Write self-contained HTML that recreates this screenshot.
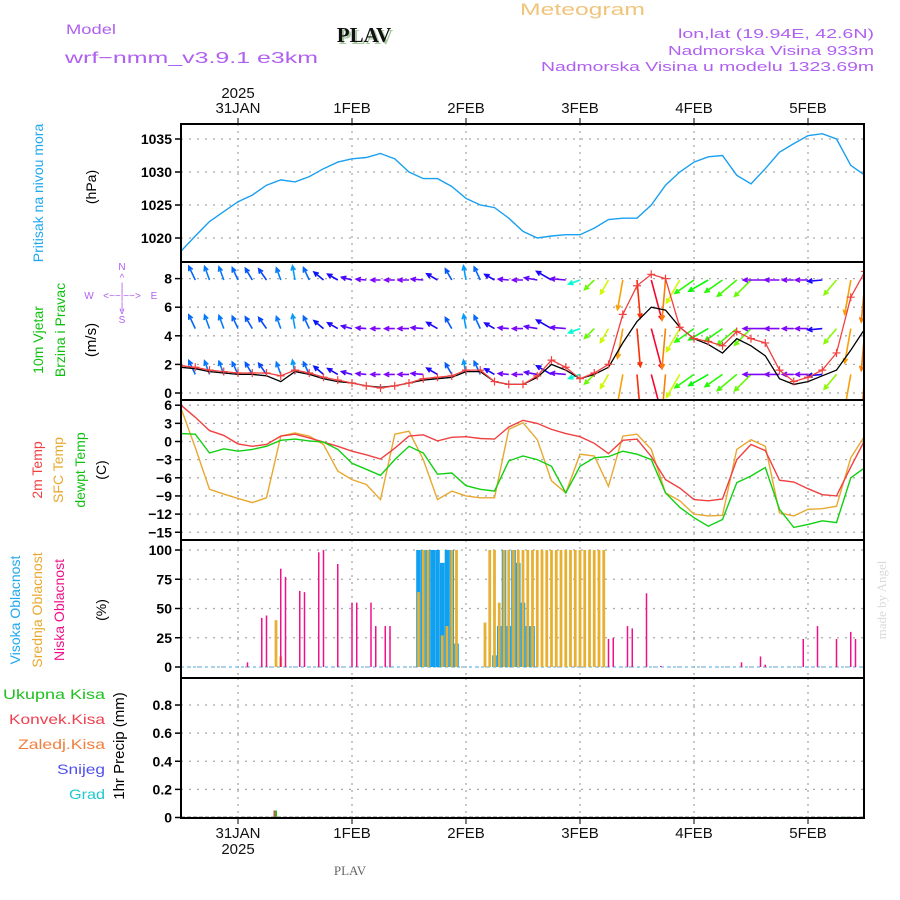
<!DOCTYPE html>
<html><head><meta charset="utf-8"><style>
html,body{margin:0;padding:0;background:#fff;}
svg{display:block;font-family:"Liberation Sans",sans-serif;}
</style></head><body>
<svg id="chart" width="900" height="900" viewBox="0 0 900 900" xmlns="http://www.w3.org/2000/svg">
<defs>
<clipPath id="cp1"><rect x="181" y="124" width="683" height="138"/></clipPath>
<clipPath id="cp2"><rect x="181" y="262" width="683" height="138"/></clipPath>
<clipPath id="cp3"><rect x="181" y="400" width="683" height="140"/></clipPath>
<clipPath id="cp4"><rect x="181" y="540" width="683" height="138"/></clipPath>
<clipPath id="cp5"><rect x="181" y="678" width="683" height="140"/></clipPath>
</defs>
<g>
<text x="520" y="15" font-size="17" fill="#f0c47a" textLength="125" lengthAdjust="spacingAndGlyphs">Meteogram</text>
<text x="66" y="34" font-size="14" fill="#b060f0" textLength="50" lengthAdjust="spacingAndGlyphs">Model</text>
<text x="65" y="63" font-size="16" fill="#b060f0" textLength="253" lengthAdjust="spacingAndGlyphs">wrf−nmm_v3.9.1 e3km</text>
<text x="366" y="44" text-anchor="middle" font-size="21" font-weight="bold" font-family="Liberation Serif,serif" fill="#a8c8a0">PLAV</text>
<text x="364" y="42" text-anchor="middle" font-size="21" font-weight="bold" font-family="Liberation Serif,serif" fill="#111">PLAV</text>
<text x="678" y="38" font-size="13" fill="#b060f0" textLength="196" lengthAdjust="spacingAndGlyphs">lon,lat (19.94E, 42.6N)</text>
<text x="668" y="55" font-size="13" fill="#b060f0" textLength="206" lengthAdjust="spacingAndGlyphs">Nadmorska Visina 933m</text>
<text x="541" y="71" font-size="13" fill="#b060f0" textLength="333" lengthAdjust="spacingAndGlyphs">Nadmorska Visina u modelu 1323.69m</text>
</g>
<g id="grid"></g>
<g id="series"></g>
<g id="axes"></g>
<g font-size="14">
<text transform="translate(43,193) rotate(-90)" text-anchor="middle" fill="#20a8f0">Pritisak na nivou mora</text>
<text transform="translate(96,187) rotate(-90)" text-anchor="middle" fill="#000">(hPa)</text>
<text transform="translate(43,340) rotate(-90)" text-anchor="middle" fill="#10c010">10m Vjetar</text>
<text transform="translate(65,330) rotate(-90)" text-anchor="middle" fill="#10c010">Brzina i Pravac</text>
<text transform="translate(96,340) rotate(-90)" text-anchor="middle" fill="#000" font-size="15">(m/s)</text>
<g fill="#b060f0" font-size="10" text-anchor="middle">
<text x="122" y="270">N</text><text x="122" y="281">^</text><text x="122" y="290">|</text>
<text x="89" y="299">W</text><text x="122" y="299">&lt;−−|−−&gt;</text><text x="154" y="299">E</text>
<text x="122" y="309">|</text><text x="122" y="314">v</text><text x="122" y="323">S</text>
</g>
<text transform="translate(42,470) rotate(-90)" text-anchor="middle" fill="#f04040">2m Temp</text>
<text transform="translate(63,470) rotate(-90)" text-anchor="middle" fill="#e8a830">SFC Temp</text>
<text transform="translate(85,470) rotate(-90)" text-anchor="middle" fill="#10c010">dewpt Temp</text>
<text transform="translate(106,470) rotate(-90)" text-anchor="middle" fill="#000">(C)</text>
<text transform="translate(20,610) rotate(-90)" text-anchor="middle" fill="#20a8f0">Visoka Oblacnost</text>
<text transform="translate(42,610) rotate(-90)" text-anchor="middle" fill="#e8a830">Srednja Oblacnost</text>
<text transform="translate(64,610) rotate(-90)" text-anchor="middle" fill="#f0108a">Niska Oblacnost</text>
<text transform="translate(106,610) rotate(-90)" text-anchor="middle" fill="#000">(%)</text>
<g font-size="14">
<text x="3" y="699" fill="#20c020" textLength="102" lengthAdjust="spacingAndGlyphs">Ukupna Kisa</text>
<text x="9" y="724" fill="#f04050" textLength="96" lengthAdjust="spacingAndGlyphs">Konvek.Kisa</text>
<text x="18" y="749" fill="#f08040" textLength="87" lengthAdjust="spacingAndGlyphs">Zaledj.Kisa</text>
<text x="57" y="774" fill="#5050f0" textLength="48" lengthAdjust="spacingAndGlyphs">Snijeg</text>
<text x="69" y="799" fill="#20c8d0" textLength="36" lengthAdjust="spacingAndGlyphs">Grad</text>
</g>
<text transform="translate(124,746) rotate(-90)" text-anchor="middle" fill="#000" font-size="15">1hr Precip (mm)</text>
</g>
<text transform="translate(886,600) rotate(-90)" text-anchor="middle" font-size="13" font-family="Liberation Serif,serif" fill="#d8dcd8">made by Angel</text>
<text x="350" y="875" text-anchor="middle" font-size="13" font-family="Liberation Serif,serif" fill="#666">PLAV</text>
</svg>
<script>
// ---- data (3-hourly from 30JAN 12Z, h = 0,3,...,144) ----
const dayLabels = ["31JAN","1FEB","2FEB","3FEB","4FEB","5FEB"];
const dayHours = [12,36,60,84,108,132];
const pressure = [1018.0,1020.3,1022.5,1024,1025.5,1026.5,1028,1028.8,1028.5,1029.3,
 1030.5,1031.5,1032,1032.2,1032.8,1032,1030,1029,1029,1027.8,
 1026,1025,1024.6,1023,1021,1020,1020.3,1020.5,1020.5,1021.5,
 1022.8,1023,1023,1025,1028,1030,1031.5,1032.3,1032.5,1029.5,
 1028.2,1030.5,1033,1034.3,1035.5,1035.8,1035,1031,1029.5];
const windSpeed = [1.9,1.8,1.6,1.5,1.4,1.4,1.4,1.2,1.6,1.4,
 1.1,0.9,0.7,0.5,0.35,0.5,0.7,1.0,1.1,1.2,
 1.6,1.6,0.8,0.6,0.6,1.2,2.3,1.8,1.0,1.4,
 2.0,5.5,7.5,8.3,8.0,4.6,3.8,3.6,3.3,4.3,
 3.8,3.5,1.6,0.8,1.1,1.6,2.8,6.7,8.5];
const windGust = [1.8,1.7,1.5,1.4,1.3,1.3,1.2,0.8,1.5,1.3,
 1.0,0.8,0.7,0.5,0.4,0.5,0.7,0.9,1.0,1.1,
 1.5,1.5,0.8,0.6,0.6,1.1,2.0,1.6,1.0,1.3,
 1.8,3.5,5.0,6.0,5.8,4.6,3.8,3.4,2.8,3.8,
 3.3,2.6,1.0,0.6,0.8,1.2,1.6,3.0,4.5];
const windDir = [120,115,110,110,115,120,125,110,100,115,
 140,150,165,175,180,180,180,175,150,120,
 100,115,150,175,180,170,150,175,200,225,
 240,260,275,285,265,240,215,210,215,220,
 225,180,180,180,180,185,230,260,265];
const windRows = [1.3,4.5,7.9];
const temp2m = [6.0,4.0,1.8,1.0,-0.4,-0.8,-0.5,0.9,1.2,0.6,
 -0.1,-0.8,-1.6,-2.2,-2.9,-1.1,0.9,1.1,0.1,0.7,
 0.8,0.5,0.4,2.4,3.5,3.0,2.0,1.3,0.8,-0.3,
 -2.0,0.2,0.4,-2.5,-6.3,-7.7,-9.6,-9.8,-9.5,-3.0,
 -0.5,-1.5,-6.4,-6.7,-7.8,-8.8,-9.0,-4.2,0.3];
const tempSfc = [5.5,-1,-7.9,-8.7,-9.4,-10.1,-9.3,0.9,1.4,0.9,
 -0.5,-4.9,-6.3,-7.1,-9.6,1.2,1.7,-3,-9.6,-8.2,
 -9,-9.3,-9.3,2.0,3.1,0.3,-6.5,-8.5,-2.1,-2.4,
 -7.4,0.9,1.2,-1.3,-8.5,-9.8,-12,-12.3,-12.2,-1.3,
 0.3,-0.8,-11.8,-12.3,-11.2,-11.1,-10.7,-2.7,1.0];
const tempDew = [1.3,1.2,-1.9,-1.2,-1.6,-1.3,-0.8,0.2,0.4,0.1,
 -0.1,-1.3,-3.6,-4.6,-5.6,-3.0,-0.8,-1.9,-5.4,-5.2,
 -7.3,-7.9,-8.2,-3.2,-2.4,-3.0,-4.1,-8.5,-4.1,-2.7,
 -2.5,-1.6,-2.1,-3.0,-8.5,-10.9,-12.6,-14.0,-12.9,-6.8,
 -5.7,-4.3,-11.2,-14.2,-13.7,-13.1,-13.4,-6.0,-4.3];
// clouds (hourly, sparse)
const lowHours = [14,17,18,21,22,25,26,29,30,33,36,37,40,41,43,44,90,91,94,95,98,101,118,122,123,131,134,138,141,142];
const lowVals  = [4,42,44,84,77,65,64,98,100,88,55,55,55,35,35,35,24,25,35,33,63,1,4,9,2,24,35,24,30,24];
const midHours = [20,21,50,51,52,55,56,57,58,64,65,66,67,68,69,70,71,72,73,74,75,76,77,78,79,80,81,82,83,84,85,86,87,88,89];
const midVals  = [40,9,64,100,100,27,35,100,100,38,100,100,55,100,100,100,100,100,100,100,100,100,100,100,100,100,100,100,100,100,100,100,100,100,100];
const highHours = [50,51,52,53,54,55,56,57,58,66,67,68,69,70,71,72,73,74];
const highVals  = [100,100,100,100,100,89,100,100,20,10,35,100,35,100,89,55,35,35];
const precipHours = [20,139,140];
const precipTotal = [0.05,0.005,0.005];
const precipConv = [0.05,0,0];
const pTicks = [1020,1025,1030,1035];
const wTicks = [0,2,4,6,8];
const tTicks = [-15,-12,-9,-6,-3,0,3,6];
const cTicks = [0,25,50,75,100];
const rTicks = [0,0.2,0.4,0.6,0.8];
const rTickLabels = ["0","0.2","0.4","0.6","0.8"];

const NS="http://www.w3.org/2000/svg";
const X = h => 181 + h*4.75;
const Yp = v => 139 + (1035-v)*6.6;
const Yw = v => 393 - v*14.3;
const Yt = v => 441.5 - (v)*6.05;
const Yc = v => 667 - v*1.17;
const Yr = v => 817.5 - v*140.6;
const STEP = 3;
function mk(tag, attrs, parent){const e=document.createElementNS(NS,tag);for(const k in attrs)e.setAttribute(k,attrs[k]);parent.appendChild(e);return e;}
const grid=document.getElementById('grid'), ser=document.getElementById('series'), axes=document.getElementById('axes');
const panels=[[124,262,pTicks,Yp,pTicks.map(String)],[262,400,wTicks,Yw,wTicks.map(String)],[400,540,tTicks,Yt,tTicks.map(v=>v<0?'−'+(-v):String(v))],[540,678,cTicks,Yc,cTicks.map(String)],[678,818,rTicks,Yr,rTickLabels]];
panels.forEach((p,pi)=>{
  p[2].forEach((t,i)=>{const y=p[3](t);
    const g=mk('line',{x1:181,x2:864,y1:y,y2:y,stroke:'#aaa','stroke-width':1.3,'stroke-dasharray':'2 6'},grid);
    
    
    const tk=mk('line',{x1:175,x2:181,y1:y,y2:y,stroke:'#000','stroke-width':1.5},axes);
    
    
    const tl=mk('text',{x:172,y:y+5,'text-anchor':'end','font-size':14,'font-weight':'bold',fill:'#000'},axes);
    tl.textContent=p[4][i];
    
    
  });
  dayHours.forEach(h=>{const g=mk('line',{x1:X(h),x2:X(h),y1:p[0],y2:p[1],stroke:'#aaa','stroke-width':1.3,'stroke-dasharray':'2 5'},grid);
    
    });
});
dayHours.forEach((h,i)=>{
  const t1=mk('text',{x:X(h),y:113,'text-anchor':'middle','font-size':15,fill:'#111'},axes);t1.textContent=dayLabels[i];
  
  
  const t2=mk('text',{x:X(h),y:838,'text-anchor':'middle','font-size':15,fill:'#111'},axes);t2.textContent=dayLabels[i];
  
  
  mk('line',{x1:X(h),x2:X(h),y1:118,y2:124,stroke:'#000'},axes);
  mk('line',{x1:X(h),x2:X(h),y1:818,y2:824,stroke:'#000'},axes);
});
const y1=mk('text',{x:X(12),y:98,'text-anchor':'middle','font-size':15,fill:'#111'},axes);y1.textContent='2025';


const y2=mk('text',{x:X(12),y:854,'text-anchor':'middle','font-size':15,fill:'#111'},axes);y2.textContent='2025';


const fr=mk('rect',{x:181,y:124,width:683,height:694,fill:'none',stroke:'#000','stroke-width':2},axes);


[262,400,540,678].forEach(y=>{const l=mk('line',{x1:181,x2:864,y1:y,y2:y,stroke:'#000','stroke-width':2},axes);
  
  });

function line(arr,Y,color,clip,name,w){
  const pts=arr.map((v,i)=>X(i*STEP).toFixed(1)+','+Y(v).toFixed(1)).join(' ');
  const pl=mk('polyline',{points:pts,fill:'none',stroke:color,'stroke-width':w||1.4,'clip-path':'url(#'+clip+')'},ser);
  
  
  return pl;
}
line(pressure,Yp,'#1aa0f0','cp1','pressure-line',1.4);
function dirColor(a){let hue;
  if(a<=180) hue=195+(a-90)*0.833;
  else if(a<=195) hue=270-(a-180)*5;
  else if(a<=210) hue=195-(a-195)*5;
  else if(a<=265) hue=120-(a-210)*1.636;
  else hue=30-(a-265)*2;
  return 'hsl('+((hue+360)%360)+',95%,50%)';}
const wg=mk('g',{'clip-path':'url(#cp2)'},ser);


windDir.forEach((d,i)=>{
  const L=8+4*windSpeed[i], r=d*Math.PI/180, col=dirColor(d);
  windRows.forEach(row=>{
    const x0=X(i*STEP), y0=Yw(row), x1=x0+L*Math.cos(r), yy=y0-L*Math.sin(r);
    const a1=r+Math.PI-0.45, a2=r+Math.PI+0.45;
    const p=mk('path',{d:`M${x0.toFixed(1)},${y0.toFixed(1)}L${x1.toFixed(1)},${yy.toFixed(1)}M${(x1+5*Math.cos(a1)).toFixed(1)},${(yy-5*Math.sin(a1)).toFixed(1)}L${x1.toFixed(1)},${yy.toFixed(1)}L${(x1+5*Math.cos(a2)).toFixed(1)},${(yy-5*Math.sin(a2)).toFixed(1)}`,stroke:col,'stroke-width':1.6,fill:'none'},wg);
    
    
  });
});
line(windGust,Yw,'#000','cp2','wind-gust-line',1.3);
line(windSpeed,Yw,'#f04040','cp2','wind-speed-line',1.3);
const mg=mk('g',{'clip-path':'url(#cp2)',stroke:'#f04040','stroke-width':1.2},ser);


windSpeed.forEach((v,i)=>{const x=X(i*STEP),y=Yw(v);
  const m=mk('path',{d:`M${x-4},${y}H${x+4}M${x},${y-4}V${y+4}`},mg);
  
  });
line(tempSfc,Yt,'#e8a830','cp3','sfc-temp-line',1.4);
line(temp2m,Yt,'#f04040','cp3','temp-2m-line',1.4);
line(tempDew,Yt,'#10d010','cp3','dewpoint-line',1.4);
const cg=mk('g',{'clip-path':'url(#cp4)'},ser);


const zb=mk('line',{x1:181,x2:864,y1:Yc(0),y2:Yc(0),stroke:'#88c8f0','stroke-width':1.5,'stroke-dasharray':'3 3'},cg);


function bars(hours,vals,w,color,name){hours.forEach((h,i)=>{
  const y=Yc(vals[i]);
  const b=mk('rect',{x:X(h)-w/2,y:y,width:w,height:Yc(0)-y,fill:color},cg);
  
  });}
bars(highHours,highVals,4.6,'#10a0f0','high-cloud-bar');
bars(midHours,midVals,2.8,'#e8b030','mid-cloud-bar');
bars(lowHours,lowVals,1.5,'#f0108a','low-cloud-bar');
const rg=mk('g',{'clip-path':'url(#cp5)'},ser);


const rz=mk('line',{x1:181,x2:864,y1:Yr(0),y2:Yr(0),stroke:'#000','stroke-width':1.5,'stroke-dasharray':'4 2'},rg);


precipHours.forEach((h,i)=>{
  const yt=Yr(precipTotal[i]);
  const b=mk('rect',{x:X(h)-1,y:yt,width:2,height:Yr(0)-yt,fill:'#20c020'},rg);
  
  
  const yc=Yr(precipConv[i]);
  const c=mk('rect',{x:X(h)-2.5,y:yc,width:1.5,height:Yr(0)-yc,fill:'#f04050'},rg);
  
  
});
</script>
</body></html>
